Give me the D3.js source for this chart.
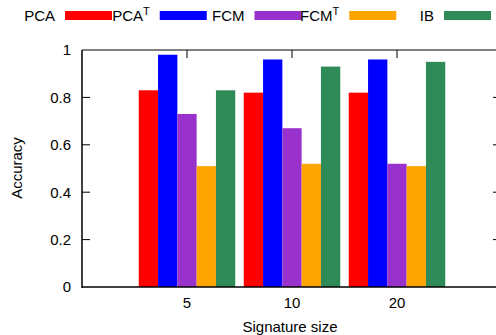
<!DOCTYPE html>
<html><head><meta charset="utf-8">
<script src="https://cdn.jsdelivr.net/npm/d3@7"></script>
<style>body{margin:0;background:#fff}svg{display:block}text{font-family:"Liberation Sans",Arial,sans-serif}</style>
</head><body>
<script>
const categories = ["5", "10", "20"];
const seriesNames = ["PCA", "PCA^T", "FCM", "FCM^T", "IB"];
const seriesColors = ["#ff0000", "#0000ff", "#9932cc", "#ffa500", "#2e8b57"];
const PCA   = [0.83, 0.82, 0.82];
const PCA_T = [0.98, 0.96, 0.96];
const FCM   = [0.73, 0.67, 0.52];
const FCM_T = [0.51, 0.52, 0.51];
const IB    = [0.83, 0.93, 0.95];
const seriesValues = [PCA, PCA_T, FCM, FCM_T, IB];
const yTicks = [0, 0.2, 0.4, 0.6, 0.8, 1];
const yTickLabels = ["0", "0.2", "0.4", "0.6", "0.8", "1"];

const W = 496, H = 335, fs = 15;
const svg = d3.select("body").append("svg").attr("width", W).attr("height", H);

const x = d3.scaleLinear().domain([-1, categories.length]).range([82, 502]);
const y = d3.scaleLinear().domain([0, 1]).range([287, 50]);
const inner = d3.scaleBand().domain(seriesNames).range([-48.25, 48.25]).padding(0);

// frame top & right
svg.append("line").attr("x1", 82).attr("x2", 502).attr("y1", 50).attr("y2", 50).attr("stroke", "#000").attr("stroke-width", 1);
svg.append("line").attr("x1", 501).attr("x2", 501).attr("y1", 50).attr("y2", 287).attr("stroke", "#000").attr("stroke-width", 1);

// y ticks (inward, both sides)
yTicks.forEach((t, i) => {
  if (t > 0 && t < 1) {
    svg.append("line").attr("x1", 82).attr("x2", 90).attr("y1", y(t)).attr("y2", y(t)).attr("stroke", "#000").attr("stroke-width", 1);
    svg.append("line").attr("x1", 493).attr("x2", 501).attr("y1", y(t)).attr("y2", y(t)).attr("stroke", "#000").attr("stroke-width", 1);
  }
  svg.append("text").attr("x", 71).attr("y", y(t)).attr("dy", "0.36em").attr("text-anchor", "end")
    .attr("font-size", fs).attr("fill", "#000").text(yTickLabels[i]);
});

// x ticks top
categories.forEach((c, i) => {
  svg.append("line").attr("x1", x(i)).attr("x2", x(i)).attr("y1", 50).attr("y2", 58).attr("stroke", "#000").attr("stroke-width", 1);
  svg.append("text").attr("x", x(i)).attr("y", 308).attr("text-anchor", "middle")
    .attr("font-size", fs).attr("fill", "#000").text(c);
});

// bars
seriesNames.forEach((s, si) => {
  svg.selectAll(null).data(seriesValues[si]).enter().append("rect")
    .attr("x", (d, i) => x(i) + inner(s))
    .attr("width", inner.bandwidth())
    .attr("y", d => y(d))
    .attr("height", d => y(0) - y(d))
    .attr("fill", seriesColors[si]);
});

// axes lines
svg.append("line").attr("x1", 82).attr("x2", 82).attr("y1", 50).attr("y2", 288).attr("stroke", "#000").attr("stroke-width", 1.5);
svg.append("line").attr("x1", 82).attr("x2", 502).attr("y1", 287).attr("y2", 287).attr("stroke", "#000").attr("stroke-width", 1.5);

// axis titles
svg.append("text").attr("x", 290).attr("y", 332).attr("text-anchor", "middle").attr("font-size", fs).text("Signature size");
svg.append("text").attr("transform", "translate(22,168) rotate(-90)").attr("text-anchor", "middle").attr("font-size", fs).text("Accuracy");

// legend
const legX = d3.scaleLinear().domain([0, 4]).range([65, 444]);
seriesNames.forEach((s, i) => {
  const sx = legX(i);
  svg.append("rect").attr("x", sx).attr("y", 11).attr("width", 47).attr("height", 9).attr("fill", seriesColors[i]);
  const t = svg.append("text").attr("x", sx - 10).attr("y", 21).attr("text-anchor", "end").attr("font-size", fs).attr("fill", "#000");
  if (s.endsWith("^T")) {
    t.append("tspan").text(s.replace("^T", ""));
    t.append("tspan").attr("dy", -6).attr("font-size", 11).text("T");
  } else t.text(s);
});
</script>
</body></html>
